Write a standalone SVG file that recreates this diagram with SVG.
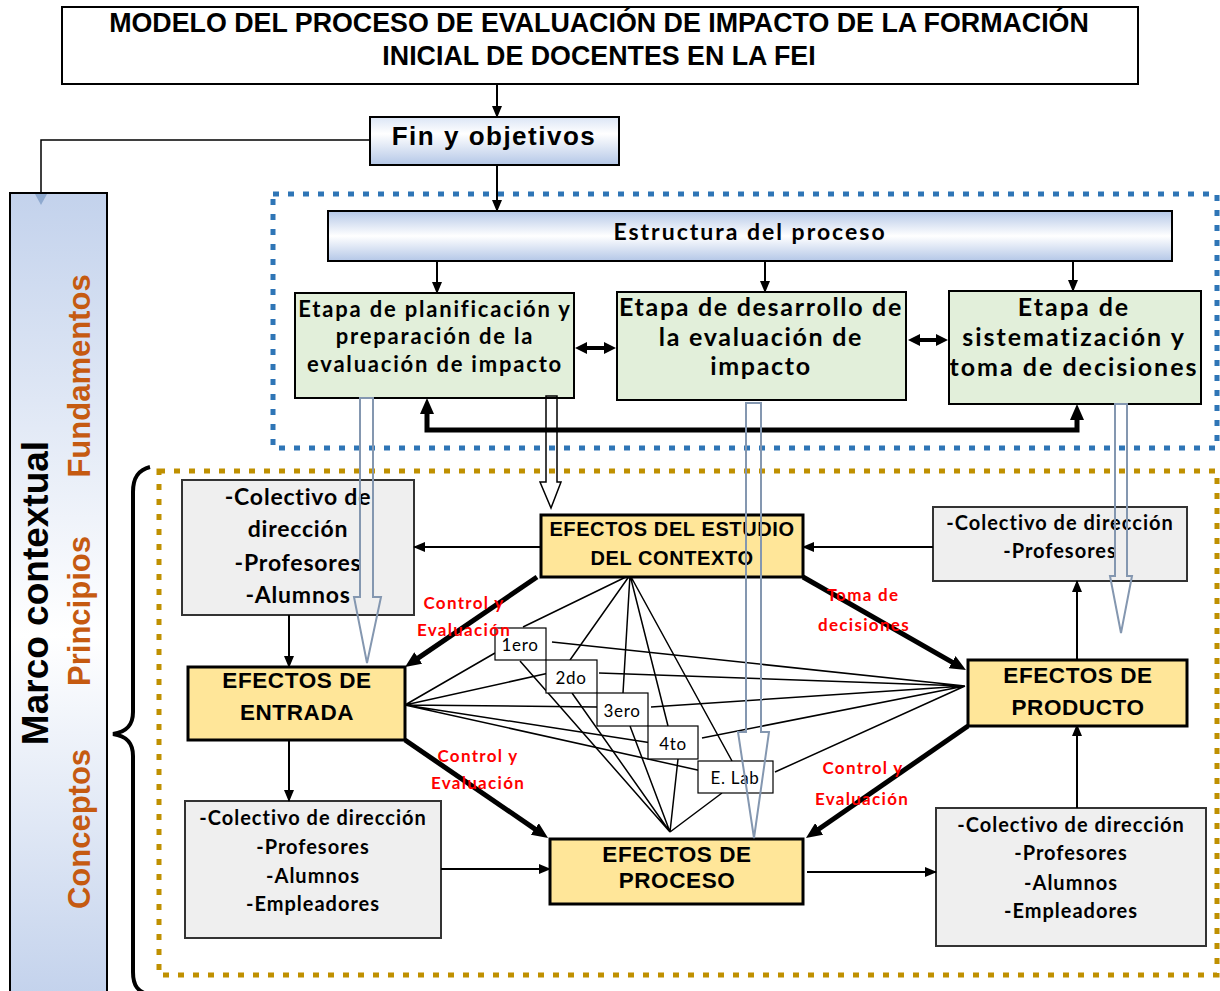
<svg xmlns="http://www.w3.org/2000/svg" width="1220" height="991" viewBox="0 0 1220 991">
<defs>
<linearGradient id="gBlue" x1="0" y1="0" x2="0" y2="1">
<stop offset="0" stop-color="#b4c7e7"/><stop offset="0.5" stop-color="#ffffff"/><stop offset="1" stop-color="#b4c7e7"/>
</linearGradient>
<linearGradient id="gFin" x1="0" y1="0" x2="0" y2="1">
<stop offset="0" stop-color="#dbe5f5"/><stop offset="0.35" stop-color="#ffffff"/><stop offset="1" stop-color="#b4c7e7"/>
</linearGradient>
<linearGradient id="gMarco" x1="0" y1="0" x2="0" y2="1">
<stop offset="0" stop-color="#c3d2ec"/><stop offset="0.55" stop-color="#ffffff"/><stop offset="1" stop-color="#c3d2ec"/>
</linearGradient>
<marker id="ah" viewBox="0 0 12 10" refX="11" refY="5" markerWidth="12" markerHeight="10" markerUnits="userSpaceOnUse" orient="auto"><path d="M0,0L12,5L0,10z" fill="#000"/></marker>
<marker id="ahT" viewBox="0 0 16 14" refX="2" refY="7" markerWidth="16" markerHeight="14" markerUnits="userSpaceOnUse" orient="auto-start-reverse"><path d="M0,0L16,7L0,14z" fill="#000"/></marker>
<marker id="ahD" viewBox="0 0 12 12" refX="1" refY="6" markerWidth="12" markerHeight="12" markerUnits="userSpaceOnUse" orient="auto-start-reverse"><path d="M0,0L12,6L0,12z" fill="#000"/></marker>
<style>
.ta{font-family:'Liberation Sans',Arial,sans-serif;font-weight:bold;text-anchor:middle;fill:#000}
.tc{font-family:Lato,'Open Sans',sans-serif;font-weight:bold;text-anchor:middle;fill:#000}
.tn{font-family:Lato,'Open Sans',sans-serif;font-weight:normal;text-anchor:middle;fill:#000;font-size:17px;letter-spacing:0.7px}
.red{font-family:Lato,'Open Sans',sans-serif;font-weight:bold;text-anchor:middle;fill:#ff0000;font-size:17px;letter-spacing:1.3px}
.org{font-family:'Liberation Sans',Arial,sans-serif;font-weight:bold;text-anchor:middle;fill:#c55a11;font-size:31px}
.gray{fill:#efefef;stroke:#333;stroke-width:2}
.yel{fill:#ffe699;stroke:#000;stroke-width:3}
.grn{fill:#e2efda;stroke:#000;stroke-width:2}
.lab{fill:#fff;stroke:#000;stroke-width:1.2}
.hol{fill:none;stroke:#8497b0;stroke-width:2}
.holk{fill:none;stroke:#000;stroke-width:1.5}
.thin{stroke:#000;stroke-width:1.5;fill:none}
.arr{stroke:#000;stroke-width:2;fill:none;marker-end:url(#ah)}
.thick{stroke:#000;stroke-width:5;fill:none;marker-end:url(#ahT)}
.dbl{stroke:#000;stroke-width:4;fill:none;marker-start:url(#ahD);marker-end:url(#ahD)}
</style>
</defs>
<rect width="1220" height="991" fill="#fff"/>

<g id="frame-blue"><rect x="273" y="194" width="944" height="254" fill="none" stroke="#2e75b6" stroke-width="5" stroke-dasharray="6 9"/></g>
<g id="frame-gold"><rect x="159" y="471" width="1058" height="504" fill="none" stroke="#bf9000" stroke-width="5" stroke-dasharray="6 9"/></g>
<g id="brace"><path d="M150,467 C138,470 133,478 133,492 L133,712 C133,726 126,732 113,734 C126,736 133,742 133,756 L133,972 C133,986 138,992 150,995" fill="none" stroke="#000" stroke-width="4"/></g>

<g id="title">
<rect x="62" y="7" width="1076" height="77" fill="#fff" stroke="#000" stroke-width="2"/>
<text class="ta" x="599" y="32" font-size="26.8">MODELO DEL PROCESO DE EVALUACIÓN DE IMPACTO DE LA FORMACIÓN</text>
<text class="ta" x="599" y="65" font-size="26.8">INICIAL DE DOCENTES EN LA FEI</text>
</g>

<g id="fin">
<rect x="370" y="117" width="249" height="48" fill="url(#gFin)" stroke="#000" stroke-width="2"/>
<text class="ta" x="494" y="145" font-size="26" letter-spacing="1.5">Fin y objetivos</text>
</g>

<g id="marco">
<rect x="10" y="193" width="97" height="805" fill="url(#gMarco)" stroke="#000" stroke-width="2"/>
<text class="ta" font-size="37" transform="translate(48,593) rotate(-90)">Marco contextual</text>
<text class="org" transform="translate(90,376) rotate(-90)">Fundamentos</text>
<text class="org" transform="translate(90,611) rotate(-90)">Principios</text>
<text class="org" transform="translate(90,829) rotate(-90)">Conceptos</text>
</g>

<g id="estructura">
<rect x="328" y="211" width="844" height="50" fill="url(#gBlue)" stroke="#000" stroke-width="2"/>
<text class="tc" x="750" y="240" font-size="23" letter-spacing="2">Estructura del proceso</text>
</g>

<g id="etapa1">
<rect x="295" y="293" width="279" height="105" class="grn"/>
<text class="tc" x="435" y="317" font-size="22" letter-spacing="1.8">Etapa de planificación y</text>
<text class="tc" x="435" y="344" font-size="22" letter-spacing="1.8">preparación de la</text>
<text class="tc" x="435" y="372" font-size="22" letter-spacing="1.8">evaluación de impacto</text>
</g>
<g id="etapa2">
<rect x="617" y="292" width="289" height="108" class="grn"/>
<text class="tc" x="761" y="316" font-size="25" letter-spacing="1.7">Etapa de desarrollo de</text>
<text class="tc" x="761" y="346" font-size="25" letter-spacing="1.7">la evaluación de</text>
<text class="tc" x="761" y="375" font-size="25" letter-spacing="1.7">impacto</text>
</g>
<g id="etapa3">
<rect x="949" y="291" width="252" height="113" class="grn"/>
<text class="tc" x="1074" y="316" font-size="25" letter-spacing="2">Etapa de</text>
<text class="tc" x="1074" y="346" font-size="25" letter-spacing="2">sistematización y</text>
<text class="tc" x="1074" y="376" font-size="25" letter-spacing="2">toma de decisiones</text>
</g>

<g id="gris1">
<rect x="182" y="480" width="232" height="135" class="gray"/>
<text class="tc" x="298" y="505" font-size="23" letter-spacing="0.8">-Colectivo de</text>
<text class="tc" x="298" y="537" font-size="23" letter-spacing="0.8">dirección</text>
<text class="tc" x="298" y="571" font-size="23" letter-spacing="0.8">-Profesores</text>
<text class="tc" x="298" y="603" font-size="23" letter-spacing="0.8">-Alumnos</text>
</g>
<g id="gris2">
<rect x="933" y="507" width="254" height="74" class="gray"/>
<text class="tc" x="1060" y="530" font-size="20" letter-spacing="1">-Colectivo de dirección</text>
<text class="tc" x="1060" y="558" font-size="20" letter-spacing="1">-Profesores</text>
</g>
<g id="gris3">
<rect x="185" y="801" width="256" height="137" class="gray"/>
<text class="tc" x="313" y="825" font-size="20" letter-spacing="1">-Colectivo de dirección</text>
<text class="tc" x="313" y="854" font-size="20" letter-spacing="1">-Profesores</text>
<text class="tc" x="313" y="883" font-size="20" letter-spacing="1">-Alumnos</text>
<text class="tc" x="313" y="911" font-size="20" letter-spacing="1">-Empleadores</text>
</g>
<g id="gris4">
<rect x="936" y="808" width="270" height="138" class="gray"/>
<text class="tc" x="1071" y="832" font-size="20" letter-spacing="1">-Colectivo de dirección</text>
<text class="tc" x="1071" y="860" font-size="20" letter-spacing="1">-Profesores</text>
<text class="tc" x="1071" y="890" font-size="20" letter-spacing="1">-Alumnos</text>
<text class="tc" x="1071" y="918" font-size="20" letter-spacing="1">-Empleadores</text>
</g>

<g id="connectors">
<path class="arr" d="M497,84 V117"/>
<path class="arr" d="M497,165 V211"/>
<path class="thin" stroke-width="2" d="M370,140 H41 V193"/>
<path d="M35,194 L47,194 L41,205 z" fill="#8ea9cf"/>
<path class="arr" d="M437,261 V293"/>
<path class="arr" d="M765,261 V292"/>
<path class="arr" d="M1073,261 V291"/>
<path class="dbl" d="M586,348 H605"/>
<path class="dbl" d="M919,340 H937"/>
<path class="thick" style="marker-start:url(#ahT)" d="M427,412 V430 H1077 V418"/>
<path class="arr" d="M541,547 H414"/>
<path class="arr" d="M933,547 H803"/>
<path class="arr" d="M289,615 V667"/>
<path class="arr" d="M289,740 V801"/>
<path class="arr" d="M441,869 H550"/>
<path class="arr" d="M807,872 H936"/>
<path class="arr" d="M1077,660 V581"/>
<path class="arr" d="M1077,808 V725"/>
<path class="thick" d="M537,577 L416.6,659.1"/>
<path class="thick" d="M405,740 L536.5,830.1"/>
<path class="thick" d="M803,577 L953.8,663.1"/>
<path class="thick" d="M968,726 L817.5,830"/>
<g class="thin">
<path d="M630,575 L523,627 M630,575 L570,660 M630,575 L623,693 M630,575 L668,726 M630,575 L732,761"/>
<path d="M405,705 L495,653 M405,705 L549,673 M405,705 L597,707 M405,705 L652,743 M405,705 L702,771"/>
<path d="M670,832 L520,661 M670,832 L572,693 M670,832 L630,726 M670,832 L678,759 M670,832 L722,793"/>
<path d="M965,686 L552,642 M965,686 L599,673 M965,686 L651,707 M965,686 L702,738 M965,686 L775,772"/>
</g>
</g>

<g id="efectos-contexto">
<rect x="541" y="515" width="262" height="62" class="yel"/>
<text class="ta" x="672" y="536" font-size="20" letter-spacing="0.6">EFECTOS DEL ESTUDIO</text>
<text class="ta" x="672" y="565" font-size="20" letter-spacing="0.6">DEL CONTEXTO</text>
</g>
<g id="efectos-entrada">
<rect x="188" y="667" width="217" height="73" class="yel"/>
<text class="ta" x="297" y="688" font-size="22.5" letter-spacing="0.6">EFECTOS DE</text>
<text class="ta" x="297" y="720" font-size="22.5" letter-spacing="0.6">ENTRADA</text>
</g>
<g id="efectos-proceso">
<rect x="550" y="839" width="253" height="65" class="yel"/>
<text class="ta" x="677" y="862" font-size="22.5" letter-spacing="0.6">EFECTOS DE</text>
<text class="ta" x="677" y="888" font-size="22.5" letter-spacing="0.6">PROCESO</text>
</g>
<g id="efectos-producto">
<rect x="968" y="660" width="219" height="66" class="yel"/>
<text class="ta" x="1078" y="683" font-size="22.5" letter-spacing="0.6">EFECTOS DE</text>
<text class="ta" x="1078" y="715" font-size="22.5" letter-spacing="0.6">PRODUCTO</text>
</g>

<g id="etiqueta-1ero"><rect x="495" y="628" width="51" height="32" class="lab"/><text class="tn" x="520" y="651">1ero</text></g>
<g id="etiqueta-2do"><rect x="546" y="660" width="51" height="33" class="lab"/><text class="tn" x="571" y="684">2do</text></g>
<g id="etiqueta-3ero"><rect x="597" y="693" width="51" height="33" class="lab"/><text class="tn" x="622" y="717">3ero</text></g>
<g id="etiqueta-4to"><rect x="648" y="726" width="50" height="33" class="lab"/><text class="tn" x="673" y="750">4to</text></g>
<g id="etiqueta-elab"><rect x="698" y="761" width="75" height="32" class="lab"/><text class="tn" x="735" y="784">E. Lab</text></g>

<g id="flechas-huecas">
<path class="hol" d="M360,398 H373 V597 H381 L367,663 L354,597 H360 Z"/>
<path class="holk" d="M546,396 H557 V482 H561 L551,508 L540,482 H546 Z"/>
<path class="hol" d="M746,403 H761 V732 H769 L754,838 L738,732 H746 Z"/>
<path class="hol" d="M1115,404 H1127 V576 H1132 L1121,633 L1110,576 H1115 Z"/>
</g>

<g id="etiquetas-rojas">
<text class="red" x="464" y="609">Control y</text>
<text class="red" x="464" y="636">Evaluación</text>
<text class="red" x="478" y="762">Control y</text>
<text class="red" x="478" y="789">Evaluación</text>
<text class="red" x="863" y="601">Toma de</text>
<text class="red" x="864" y="631">decisiones</text>
<text class="red" x="863" y="774">Control y</text>
<text class="red" x="862" y="805">Evaluación</text>
</g>
</svg>
